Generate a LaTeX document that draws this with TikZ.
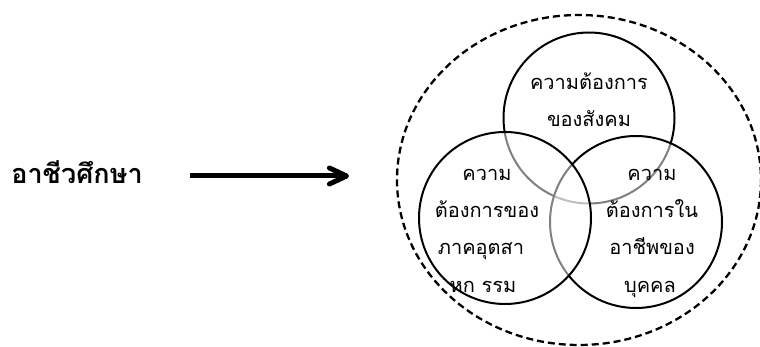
\documentclass[tikz,border=0pt]{standalone}
\usepackage{fontspec}
\newfontfamily\thaifont[Script=Thai]{Loma}
\usetikzlibrary{arrows.meta}
\begin{document}
\begin{tikzpicture}[x=1pt,y=-1pt,
  venn/.style={draw=black,line width=2pt,fill=white,fill opacity=0.5},
  word/.style={anchor=base,inner sep=0pt,font=\thaifont\fontsize{20}{20}\selectfont},
  title/.style={anchor=base,inner sep=0pt,font=\thaifont\bfseries\fontsize{27}{27}\selectfont},
  outer/.style={draw=black,line width=2.3pt,dash pattern=on 7pt off 4pt}]
\useasboundingbox (0,0) rectangle (760,347);

% enclosing dashed ellipse
\draw[outer] (579,180) ellipse [x radius=182, y radius=165];

% three overlapping circles, later ones veil the earlier outlines
\draw[venn] (589,118) circle [radius=85.5];
\draw[venn] (636,222) circle [radius=86];
\draw[venn] (505,218) circle [radius=86];

% labels of the top circle
\node[word] (t1) at (589,90) {ความต้องการ};
\node[word] (t2) at (589,127) {ของสังคม};

% labels of the left circle
\node[word] (l1) at (487,181) {ความ};
\node[word] (l2) at (487,218) {ต้องการของ};
\node[word] (l3) at (481,255) {ภาคอุตสา};
\node[word] (l4) at (483,292) {หก รรม};

% labels of the right circle
\node[word] (r1) at (652,181) {ความ};
\node[word] (r2) at (652,218) {ต้องการใน};
\node[word] (r3) at (652,255) {อาชีพของ};
\node[word] (r4) at (650,292) {บุคคล};

% heading and arrow
\node[title] (lbl) at (77,184) {อาชีวศึกษา};
\coordinate (arrowstart) at (190,176);
\coordinate (arrowend) at (349,176);
\draw[line width=5pt,-{Straight Barb[length=17pt,width=16pt,round]}] (arrowstart) -- (arrowend);
\end{tikzpicture}
\end{document}
